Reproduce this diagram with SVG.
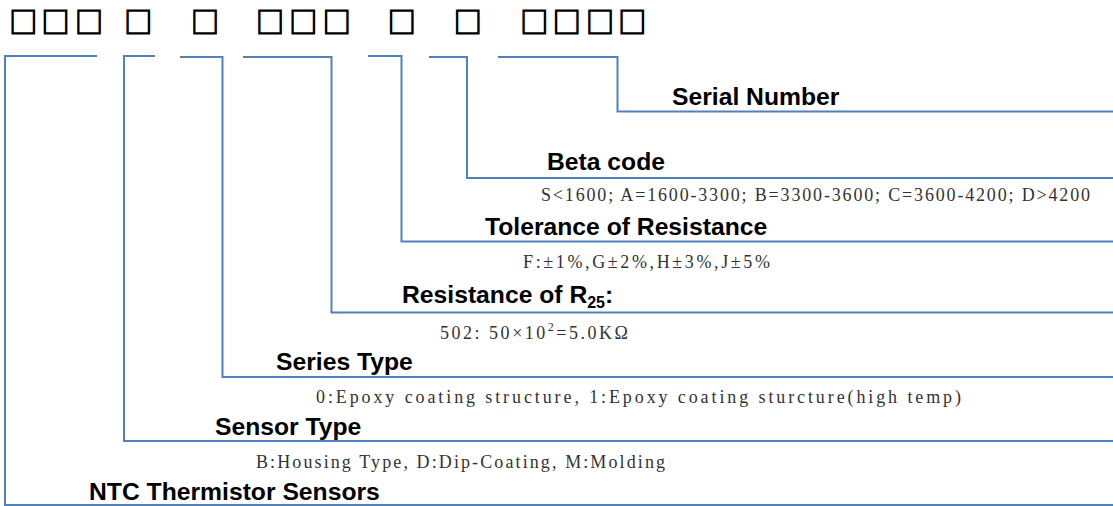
<svg xmlns="http://www.w3.org/2000/svg" width="1113" height="506" viewBox="0 0 1113 506">
<style>
.ln{fill:none;stroke:#4F81BD;stroke-width:2}
.lbl{font-family:"Liberation Sans",Arial,sans-serif;font-weight:bold;font-size:24.7px;fill:#000}
.dsc{font-family:"Liberation Serif","Times New Roman",serif;font-size:18px;fill:#333}
.box{font-family:"Noto Sans CJK SC",sans-serif;font-size:28px;fill:#000;stroke:#000;stroke-width:1.2;text-anchor:middle}
</style>
<rect width="1113" height="506" fill="#fff"/>
<g id="code">
<text class="box" x="23.3 55.6 88.9 138.3 205 270 303.3 336.7 401.7 467.7 534.3 566.7 600 632.3" y="32.5">□□□□□□□□□□□□□□</text>
</g>
<g id="connectors">
<path class="ln" d="M97,56 H5 V505 H1113"/>
<path class="ln" d="M155,56 H124 V441 H1113"/>
<path class="ln" d="M180,57 H222.5 V377 H1113"/>
<path class="ln" d="M243,57 H331.5 V312.5 H1113"/>
<path class="ln" d="M368,56 H401.5 V241.5 H1113"/>
<path class="ln" d="M429,57 H467 V178 H1113"/>
<path class="ln" d="M498,57 H617.5 V111.5 H1113"/>
</g>
<g id="serial-number">
<text class="lbl" x="672" y="105">Serial Number</text>
</g>
<g id="beta-code">
<text class="lbl" x="547" y="170">Beta code</text>
<text class="dsc" x="541" y="201" textLength="549" lengthAdjust="spacing">S&lt;1600; A=1600-3300; B=3300-3600; C=3600-4200; D&gt;4200</text>
</g>
<g id="tolerance">
<text class="lbl" x="485" y="235">Tolerance of Resistance</text>
<text class="dsc" x="523" y="268" textLength="247" lengthAdjust="spacing">F:±1%,G±2%,H±3%,J±5%</text>
</g>
<g id="resistance">
<text class="lbl" x="402" y="303">Resistance of R<tspan font-size="16" dy="5">25</tspan><tspan dy="-5">:</tspan></text>
<text class="dsc" x="440" y="339" textLength="188" lengthAdjust="spacing">502:  50×10<tspan font-size="12" dy="-8">2</tspan><tspan dy="8">=5.0KΩ</tspan></text>
</g>
<g id="series-type">
<text class="lbl" x="276" y="370">Series Type</text>
<text class="dsc" x="316" y="403" textLength="645" lengthAdjust="spacing">0:Epoxy coating structure, 1:Epoxy coating sturcture(high temp)</text>
</g>
<g id="sensor-type">
<text class="lbl" x="215" y="435">Sensor Type</text>
<text class="dsc" x="256" y="468" textLength="409" lengthAdjust="spacing">B:Housing Type, D:Dip-Coating, M:Molding</text>
</g>
<g id="ntc">
<text class="lbl" x="89" y="500">NTC Thermistor Sensors</text>
</g>
</svg>
